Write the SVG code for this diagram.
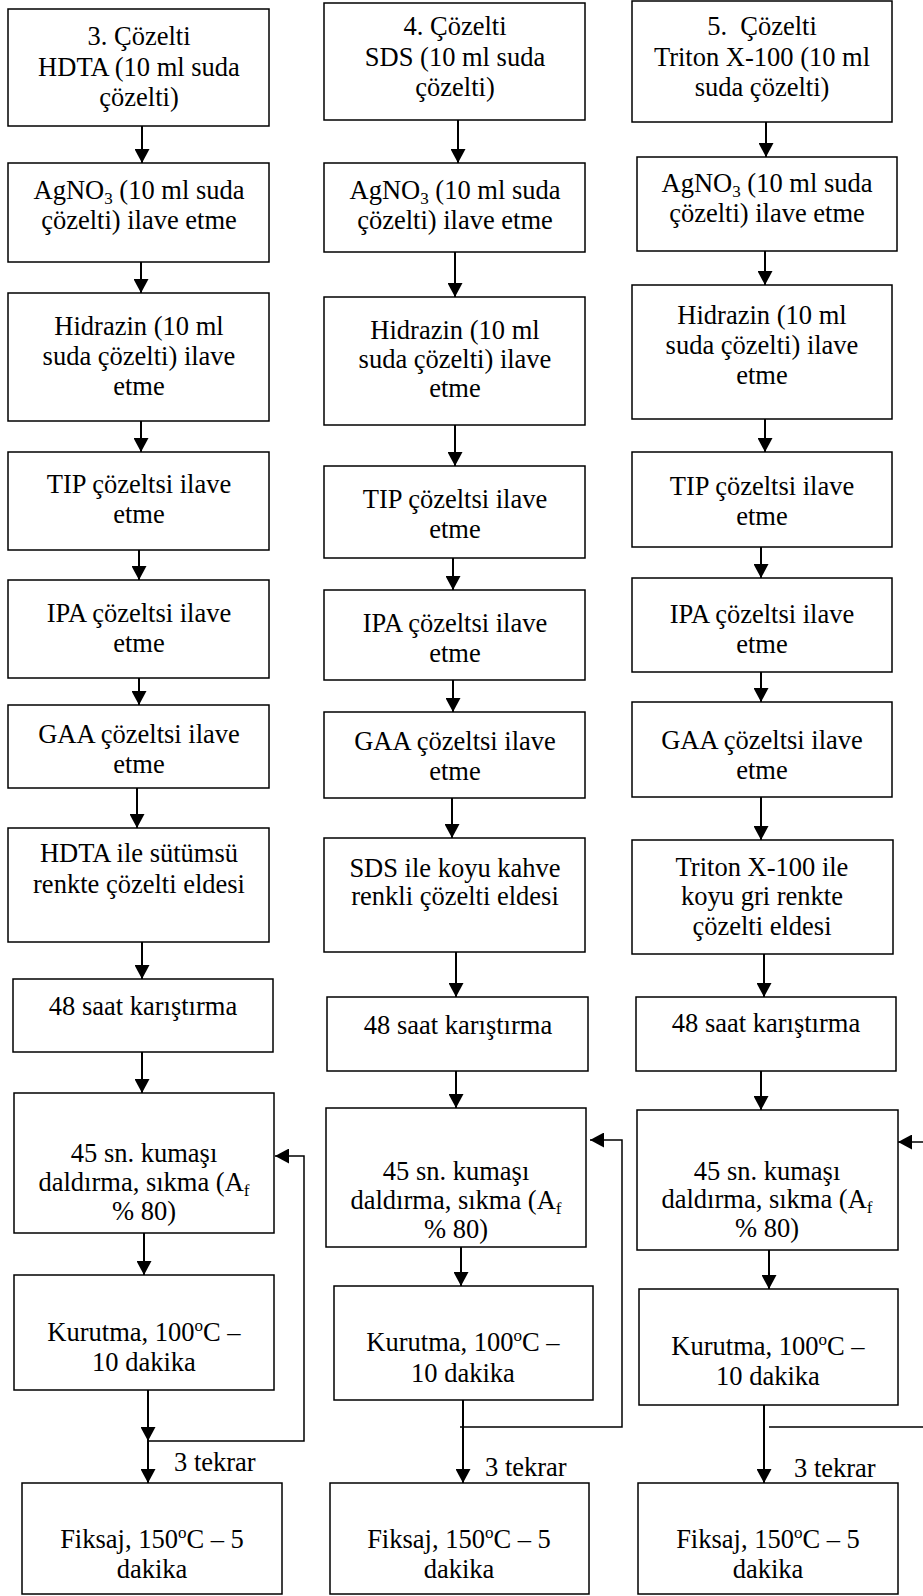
<svg xmlns="http://www.w3.org/2000/svg" width="923" height="1596" viewBox="0 0 923 1596">
<style>
rect.b{fill:#fff;stroke:#000;stroke-width:1.5}
text{font-family:"Liberation Serif","Times New Roman",serif;font-size:26.5px;fill:#000}
text.c{text-anchor:middle}
.a{stroke:#000;stroke-width:2;fill:none;marker-end:url(#ah)}
.fa{stroke:#000;stroke-width:1.5;fill:none;marker-end:url(#ah)}
</style>
<defs>
<marker id="ah" viewBox="0 0 14 15" refX="14" refY="7.5" markerWidth="14" markerHeight="15" orient="auto" markerUnits="userSpaceOnUse"><path d="M0,0 L14,7.5 L0,15 z" fill="#000"/></marker>
</defs>
<rect width="923" height="1596" fill="#fff"/>

<g id="connectors">
<line class="a" x1="142" y1="126" x2="142" y2="163"/>
<line class="a" x1="141" y1="262" x2="141" y2="293"/>
<line class="a" x1="141" y1="421" x2="141" y2="452"/>
<line class="a" x1="139" y1="550" x2="139" y2="580"/>
<line class="a" x1="139" y1="678" x2="139" y2="705"/>
<line class="a" x1="137" y1="788" x2="137" y2="828"/>
<line class="a" x1="142" y1="942" x2="142" y2="979"/>
<line class="a" x1="142" y1="1052" x2="142" y2="1093"/>
<line class="a" x1="144" y1="1233" x2="144" y2="1275"/>
<line class="a" x1="148" y1="1390" x2="148" y2="1441"/>
<line class="a" x1="148" y1="1441" x2="148" y2="1483"/>
<polyline class="fa" points="148,1441 304,1441 304,1156 275,1156"/>

<line class="a" x1="458" y1="120" x2="458" y2="163"/>
<line class="a" x1="455" y1="252" x2="455" y2="297"/>
<line class="a" x1="455" y1="425" x2="455" y2="466"/>
<line class="a" x1="453" y1="558" x2="453" y2="590"/>
<line class="a" x1="453" y1="680" x2="453" y2="712"/>
<line class="a" x1="452" y1="798" x2="452" y2="838"/>
<line class="a" x1="456" y1="952" x2="456" y2="997"/>
<line class="a" x1="456" y1="1071" x2="456" y2="1108"/>
<line class="a" x1="461" y1="1247" x2="461" y2="1286"/>
<line class="a" x1="463" y1="1400" x2="463" y2="1483"/>
<polyline class="fa" points="460,1427 622,1427 622,1140 590,1140"/>

<line class="a" x1="766" y1="122" x2="766" y2="157"/>
<line class="a" x1="765" y1="251" x2="765" y2="285"/>
<line class="a" x1="765" y1="419" x2="765" y2="452"/>
<line class="a" x1="761" y1="547" x2="761" y2="578"/>
<line class="a" x1="761" y1="672" x2="761" y2="702"/>
<line class="a" x1="761" y1="797" x2="761" y2="840"/>
<line class="a" x1="764" y1="954" x2="764" y2="997"/>
<line class="a" x1="761" y1="1071" x2="761" y2="1110"/>
<line class="a" x1="769" y1="1250" x2="769" y2="1289"/>
<line class="a" x1="764" y1="1405" x2="764" y2="1483"/>
<polyline class="fa" points="769,1427 935,1427 935,1142 898,1142"/>
</g>

<g id="labels">
<text x="174" y="1471">3 tekrar</text>
<text x="485" y="1476">3 tekrar</text>
<text x="794" y="1477">3 tekrar</text>
</g>

<!-- Column 1 -->
<g id="c1n1"><rect class="b" x="8" y="9" width="261" height="117"/>
<text class="c" x="139" y="45">3. Çözelti</text><text class="c" x="139" y="76">HDTA (10 ml suda</text><text class="c" x="139" y="106">çözelti)</text></g>
<g id="c1n2"><rect class="b" x="8" y="163" width="261" height="99"/>
<text class="c" x="139" y="199">AgNO<tspan font-size="17" dy="5">3</tspan><tspan dy="-5"> (10 ml suda</tspan></text><text class="c" x="139" y="229">çözelti) ilave etme</text></g>
<g id="c1n3"><rect class="b" x="8" y="293" width="261" height="128"/>
<text class="c" x="139" y="335">Hidrazin (10 ml</text><text class="c" x="139" y="365">suda çözelti) ilave</text><text class="c" x="139" y="395">etme</text></g>
<g id="c1n4"><rect class="b" x="8" y="452" width="261" height="98"/>
<text class="c" x="139" y="493">TIP çözeltsi ilave</text><text class="c" x="139" y="523">etme</text></g>
<g id="c1n5"><rect class="b" x="8" y="580" width="261" height="98"/>
<text class="c" x="139" y="622">IPA çözeltsi ilave</text><text class="c" x="139" y="652">etme</text></g>
<g id="c1n6"><rect class="b" x="8" y="705" width="261" height="83"/>
<text class="c" x="139" y="743">GAA çözeltsi ilave</text><text class="c" x="139" y="773">etme</text></g>
<g id="c1n7"><rect class="b" x="8" y="828" width="261" height="114"/>
<text class="c" x="139" y="862">HDTA ile sütümsü</text><text class="c" x="139" y="893">renkte çözelti eldesi</text></g>
<g id="c1n8"><rect class="b" x="13" y="979" width="260" height="73"/>
<text class="c" x="143" y="1015">48 saat karıştırma</text></g>
<g id="c1n9"><rect class="b" x="14" y="1093" width="260" height="140"/>
<text class="c" x="144" y="1162">45 sn. kumaşı</text><text class="c" x="144" y="1191">daldırma, sıkma (A<tspan font-size="17" dy="5">f</tspan></text><text class="c" x="144" y="1220">% 80)</text></g>
<g id="c1n10"><rect class="b" x="14" y="1275" width="260" height="115"/>
<text class="c" x="144" y="1341">Kurutma, 100<tspan font-size="17" dy="-10">o</tspan><tspan dy="10">C –</tspan></text><text class="c" x="144" y="1371">10 dakika</text></g>
<g id="c1n11"><rect class="b" x="22" y="1483" width="260" height="111"/>
<text class="c" x="152" y="1548">Fiksaj, 150<tspan font-size="17" dy="-10">o</tspan><tspan dy="10">C – 5</tspan></text><text class="c" x="152" y="1578">dakika</text></g>

<!-- Column 2 -->
<g id="c2n1"><rect class="b" x="324" y="3" width="261" height="117"/>
<text class="c" x="455" y="35">4. Çözelti</text><text class="c" x="455" y="66">SDS (10 ml suda</text><text class="c" x="455" y="96">çözelti)</text></g>
<g id="c2n2"><rect class="b" x="324" y="163" width="261" height="89"/>
<text class="c" x="455" y="199">AgNO<tspan font-size="17" dy="5">3</tspan><tspan dy="-5"> (10 ml suda</tspan></text><text class="c" x="455" y="229">çözelti) ilave etme</text></g>
<g id="c2n3"><rect class="b" x="324" y="297" width="261" height="128"/>
<text class="c" x="455" y="339">Hidrazin (10 ml</text><text class="c" x="455" y="368">suda çözelti) ilave</text><text class="c" x="455" y="397">etme</text></g>
<g id="c2n4"><rect class="b" x="324" y="466" width="261" height="92"/>
<text class="c" x="455" y="508">TIP çözeltsi ilave</text><text class="c" x="455" y="538">etme</text></g>
<g id="c2n5"><rect class="b" x="324" y="590" width="261" height="90"/>
<text class="c" x="455" y="632">IPA çözeltsi ilave</text><text class="c" x="455" y="662">etme</text></g>
<g id="c2n6"><rect class="b" x="324" y="712" width="261" height="86"/>
<text class="c" x="455" y="750">GAA çözeltsi ilave</text><text class="c" x="455" y="780">etme</text></g>
<g id="c2n7"><rect class="b" x="324" y="838" width="261" height="114"/>
<text class="c" x="455" y="877">SDS ile koyu kahve</text><text class="c" x="455" y="905">renkli çözelti eldesi</text></g>
<g id="c2n8"><rect class="b" x="327" y="997" width="261" height="74"/>
<text class="c" x="458" y="1034">48 saat karıştırma</text></g>
<g id="c2n9"><rect class="b" x="326" y="1108" width="260" height="139"/>
<text class="c" x="456" y="1180">45 sn. kumaşı</text><text class="c" x="456" y="1209">daldırma, sıkma (A<tspan font-size="17" dy="5">f</tspan></text><text class="c" x="456" y="1238">% 80)</text></g>
<g id="c2n10"><rect class="b" x="334" y="1286" width="259" height="114"/>
<text class="c" x="463" y="1351">Kurutma, 100<tspan font-size="17" dy="-10">o</tspan><tspan dy="10">C –</tspan></text><text class="c" x="463" y="1382">10 dakika</text></g>
<g id="c2n11"><rect class="b" x="330" y="1483" width="259" height="111"/>
<text class="c" x="459" y="1548">Fiksaj, 150<tspan font-size="17" dy="-10">o</tspan><tspan dy="10">C – 5</tspan></text><text class="c" x="459" y="1578">dakika</text></g>

<!-- Column 3 -->
<g id="c3n1"><rect class="b" x="632" y="1" width="260" height="121"/>
<text class="c" x="762" y="35" xml:space="preserve">5.  Çözelti</text><text class="c" x="762" y="66">Triton X-100 (10 ml</text><text class="c" x="762" y="96">suda çözelti)</text></g>
<g id="c3n2"><rect class="b" x="637" y="157" width="260" height="94"/>
<text class="c" x="767" y="192">AgNO<tspan font-size="17" dy="5">3</tspan><tspan dy="-5"> (10 ml suda</tspan></text><text class="c" x="767" y="222">çözelti) ilave etme</text></g>
<g id="c3n3"><rect class="b" x="632" y="285" width="260" height="134"/>
<text class="c" x="762" y="324">Hidrazin (10 ml</text><text class="c" x="762" y="354">suda çözelti) ilave</text><text class="c" x="762" y="384">etme</text></g>
<g id="c3n4"><rect class="b" x="632" y="452" width="260" height="95"/>
<text class="c" x="762" y="495">TIP çözeltsi ilave</text><text class="c" x="762" y="525">etme</text></g>
<g id="c3n5"><rect class="b" x="632" y="578" width="260" height="94"/>
<text class="c" x="762" y="623">IPA çözeltsi ilave</text><text class="c" x="762" y="653">etme</text></g>
<g id="c3n6"><rect class="b" x="632" y="702" width="260" height="95"/>
<text class="c" x="762" y="749">GAA çözeltsi ilave</text><text class="c" x="762" y="779">etme</text></g>
<g id="c3n7"><rect class="b" x="632" y="840" width="261" height="114"/>
<text class="c" x="762" y="876">Triton X-100 ile</text><text class="c" x="762" y="905">koyu gri renkte</text><text class="c" x="762" y="935">çözelti eldesi</text></g>
<g id="c3n8"><rect class="b" x="636" y="997" width="260" height="74"/>
<text class="c" x="766" y="1032">48 saat karıştırma</text></g>
<g id="c3n9"><rect class="b" x="637" y="1110" width="261" height="140"/>
<text class="c" x="767" y="1180">45 sn. kumaşı</text><text class="c" x="767" y="1208">daldırma, sıkma (A<tspan font-size="17" dy="5">f</tspan></text><text class="c" x="767" y="1237">% 80)</text></g>
<g id="c3n10"><rect class="b" x="639" y="1289" width="259" height="116"/>
<text class="c" x="768" y="1355">Kurutma, 100<tspan font-size="17" dy="-10">o</tspan><tspan dy="10">C –</tspan></text><text class="c" x="768" y="1385">10 dakika</text></g>
<g id="c3n11"><rect class="b" x="638" y="1483" width="260" height="111"/>
<text class="c" x="768" y="1548">Fiksaj, 150<tspan font-size="17" dy="-10">o</tspan><tspan dy="10">C – 5</tspan></text><text class="c" x="768" y="1578">dakika</text></g>
</svg>
